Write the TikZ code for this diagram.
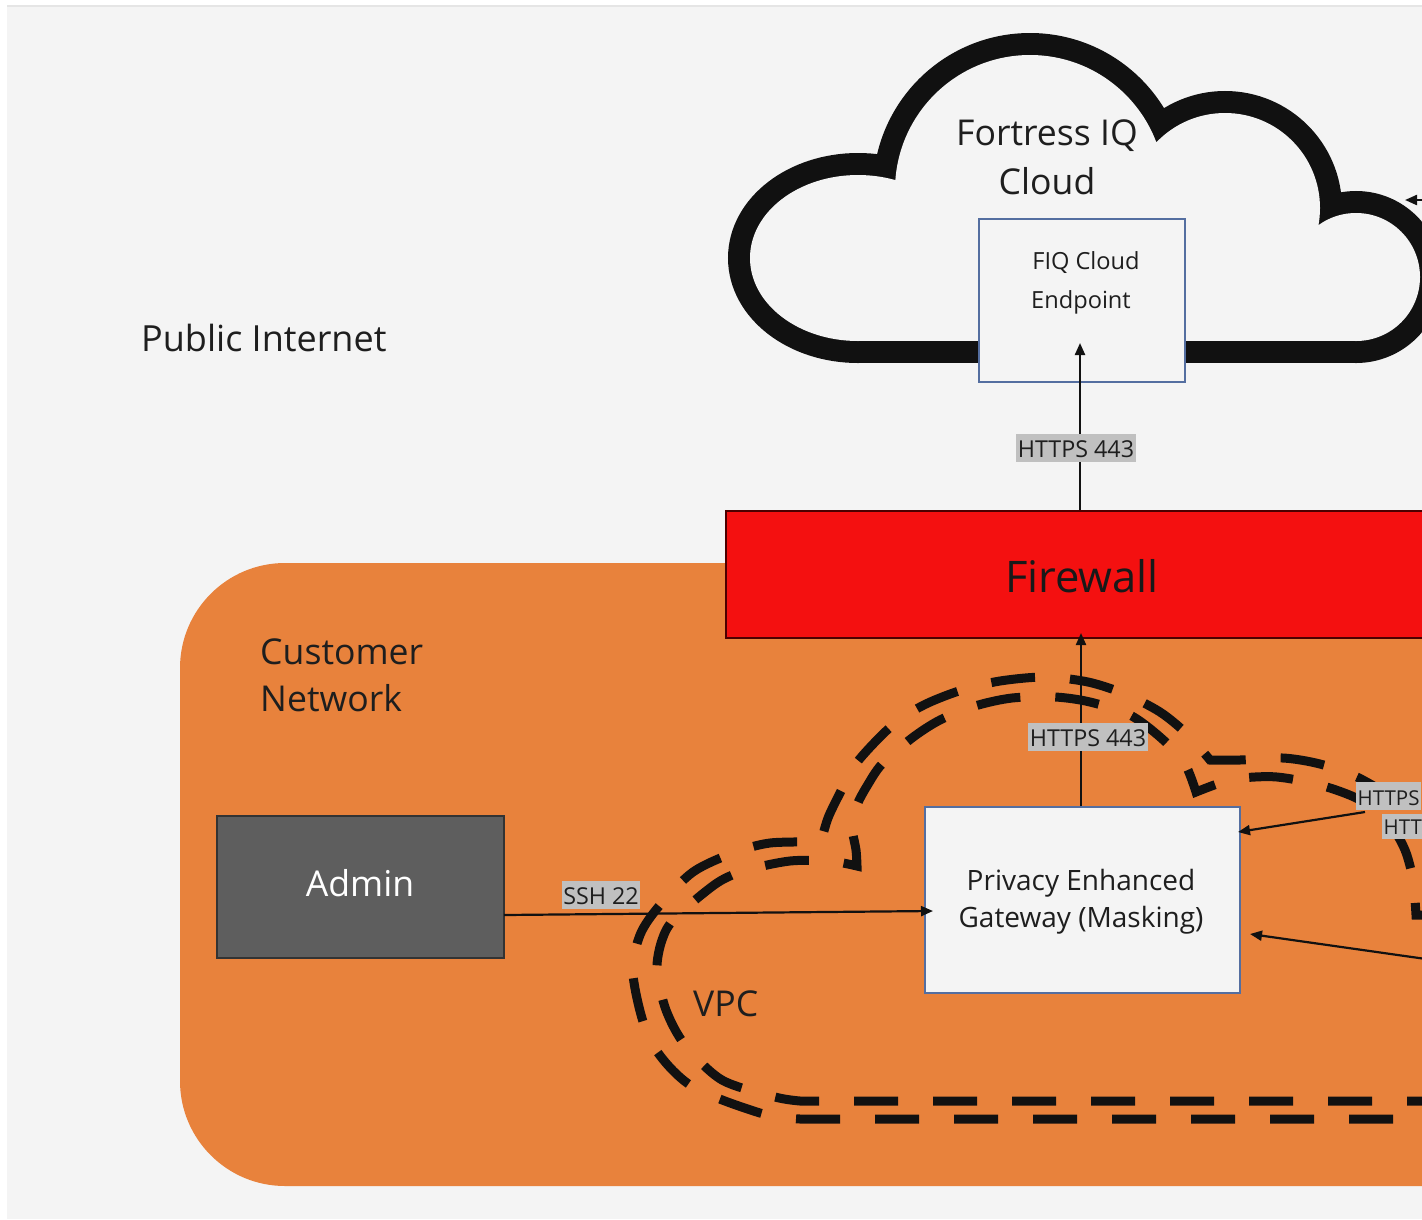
\documentclass[tikz,border=0pt]{standalone}
\usepackage{fontspec}
\setmainfont{Open Sans}
\usetikzlibrary{arrows.meta,calc}
\definecolor{bggray}{RGB}{244,244,244}
\definecolor{orng}{RGB}{232,130,60}
\definecolor{fwred}{RGB}{244,16,16}
\definecolor{admgray}{RGB}{94,94,94}
\definecolor{lblgray}{RGB}{192,192,192}
\definecolor{boxblue}{RGB}{84,110,160}
\definecolor{txtc}{RGB}{30,30,30}
\definecolor{inkc}{RGB}{17,17,17}
\newcommand\fiqlobes{(858pt,-258pt) ellipse [x radius=108pt, y radius=83pt]
  (1030pt,-190pt) circle [radius=135pt]
  (1225pt,-208pt) circle [radius=95pt]
  (1356pt,-277pt) circle [radius=64pt]}
\tikzset{
  txt/.style={anchor=base, inner sep=0pt, text=txtc},
  bigfont/.style={font=\fontsize{35.6}{42}\selectfont},
  lbl/.style={fill=lblgray, anchor=base, inner xsep=1.5pt, inner ysep=0pt,
    text height=23pt, text depth=4.5pt, text=txtc, font=\fontsize{23.3}{27}\selectfont},
  arr/.style={-{Triangle[length=12pt,width=10pt]}, line width=2.2pt, draw=inkc},
  vpcline/.style={line width=9pt, dash pattern=on 44pt off 35pt, draw=inkc},
  pbox/.style={draw=boxblue, line width=1.5pt, fill=bggray, inner sep=0pt}
}
\begin{document}
\begin{tikzpicture}[x=1pt,y=-1pt]
\useasboundingbox (0,0) rectangle (1422,1219);
\clip (0,0) rectangle (1422,1219);
% background
\fill[white] (0,0) rectangle (1422,1219);
\fill[bggray] (7,5) rectangle (1422,1219);
\draw[black!10, line width=2pt] (7,6) -- (1422,6);
% customer network
\fill[orng, rounded corners=105pt] (180,563) rectangle (1650,1186);
% firewall
\node[draw=black!70!red, line width=1.5pt, fill=fwred, minimum width=712pt, minimum height=127pt, inner sep=0pt] (fw) at (1082,574.5) {};
\node[txt, font=\fontsize{43.5}{50}\selectfont, text=black!90] (fwtxt) at (1082,592) {Firewall};
% Fortress IQ cloud
\draw[line width=44pt, draw=inkc] \fiqlobes;
\draw[line width=44pt, draw=inkc] (858,341) -- (1356,341);
\fill[bggray] \fiqlobes;
\fill[bggray] (858,250) rectangle (1356,341);
\node[txt, bigfont] (fc1) at (1047,145) {Fortress IQ};
\node[txt, bigfont] (fc2) at (1047,194) {Cloud};
% VPC dashed cloud (outer line)
\draw[vpcline, dash phase=32pt] (1440,1119) -- (800,1119)
  -- plot[smooth] coordinates {(800,1119) (760,1113) (690,1085) (650,1040) (633,975) (640,935) (660,905) (693,872) (733,853) (770,843) (821,842)}
  -- plot[smooth] coordinates {(821,842) (828,818) (840,793) (855,765) (877,740) (900,719) (928,703) (962,690) (1000,681) (1045,677) (1088,682) (1125,694) (1160,712) (1187,734) (1210,760)}
  -- plot[smooth] coordinates {(1210,760) (1240,760) (1283,758) (1320,764) (1357,777) (1395,800) (1425,830) (1450,870)};
% VPC dashed cloud (inner line)
\draw[vpcline, dash phase=11pt] (1440,1101) -- (800,1101)
  -- plot[smooth] coordinates {(800,1101) (775,1097) (722,1080) (685,1045) (666,1010) (657,970) (662,940) (675,918) (717,883) (747,870) (790,861) (830,861) (857,866)}
  -- plot[smooth] coordinates {(857,866) (856,850) (852,826) (857,805) (867,786) (882,764) (912,738) (940,720) (975,706) (1012,698) (1055,697) (1090,702) (1130,715) (1160,737) (1184,762) (1196,792)}
  -- plot[smooth] coordinates {(1196,792) (1220,783) (1242,778) (1277,777) (1320,785) (1360,800) (1390,825) (1405,850) (1413,880) (1416,915)}
  -- (1440,915);
\node[txt, bigfont, anchor=base west] (vpc) at (693,1016) {VPC};
% boxes
\node[pbox, minimum width=206pt, minimum height=163pt] (fiq) at (1082,300.5) {};
\node[txt, font=\fontsize{23.6}{27}\selectfont] (fiq1) at (1086,269) {FIQ Cloud};
\node[txt, font=\fontsize{23.6}{27}\selectfont] (fiq2) at (1081,308) {Endpoint};
\node[pbox, minimum width=315pt, minimum height=186pt] (peg) at (1082.5,900) {};
\node[txt, font=\fontsize{28}{32}\selectfont] (peg1) at (1081,890) {Privacy Enhanced};
\node[txt, font=\fontsize{28}{32}\selectfont] (peg2) at (1081,927) {Gateway (Masking)};
\node[draw=black!80, line width=1.5pt, fill=admgray, minimum width=287pt, minimum height=142pt, inner sep=0pt] (admin) at (360.5,887) {};
\node[txt, bigfont, text=white] (admintxt) at (360,896) {Admin};
% texts
\node[txt, font=\fontsize{36}{42}\selectfont, anchor=base west] (pub) at (141,351) {Public Internet};
\node[txt, bigfont, anchor=base west] (cn1) at (260,664) {Customer};
\node[txt, bigfont, anchor=base west] (cn2) at (260,711) {Network};
% connector end points
\coordinate (fiqin) at (1080,343);
\coordinate (fwin) at (1081,633);
\coordinate (sshs) at (504,915);
\coordinate (pegw) at (933,911);
\coordinate (r1s) at (1365,812);
\coordinate (pegne) at (1238,832);
\coordinate (r2s) at (1440,961);
\coordinate (pege) at (1250,934);
\coordinate (r3s) at (1440,200);
\coordinate (cloudtip) at (1405,200);
% connectors
\draw[arr] (fw.north -| fiqin) -- (fiqin);
\draw[arr] (peg.north -| fwin) -- (fwin);
\draw[arr] (sshs) -- (pegw);
\draw[arr] (r1s) -- (pegne);
\draw[arr] (r2s) -- (pege);
\draw[arr] (r3s) -- (cloudtip);
% labels
\node[lbl] (l1) at (1076,457) {HTTPS 443};
\node[lbl] (l2) at (1088,746) {HTTPS 443};
\node[lbl] (l3) at (601,904) {SSH 22};
\node[lbl, anchor=base west, font=\fontsize{20.5}{24}\selectfont, text height=23pt, text depth=5pt] (l4) at (1356,805) {HTTPS};
\node[lbl, anchor=base west, font=\fontsize{20.5}{24}\selectfont, text height=20pt, text depth=5pt] (l5) at (1382,834) {HTT};
\end{tikzpicture}
\end{document}
